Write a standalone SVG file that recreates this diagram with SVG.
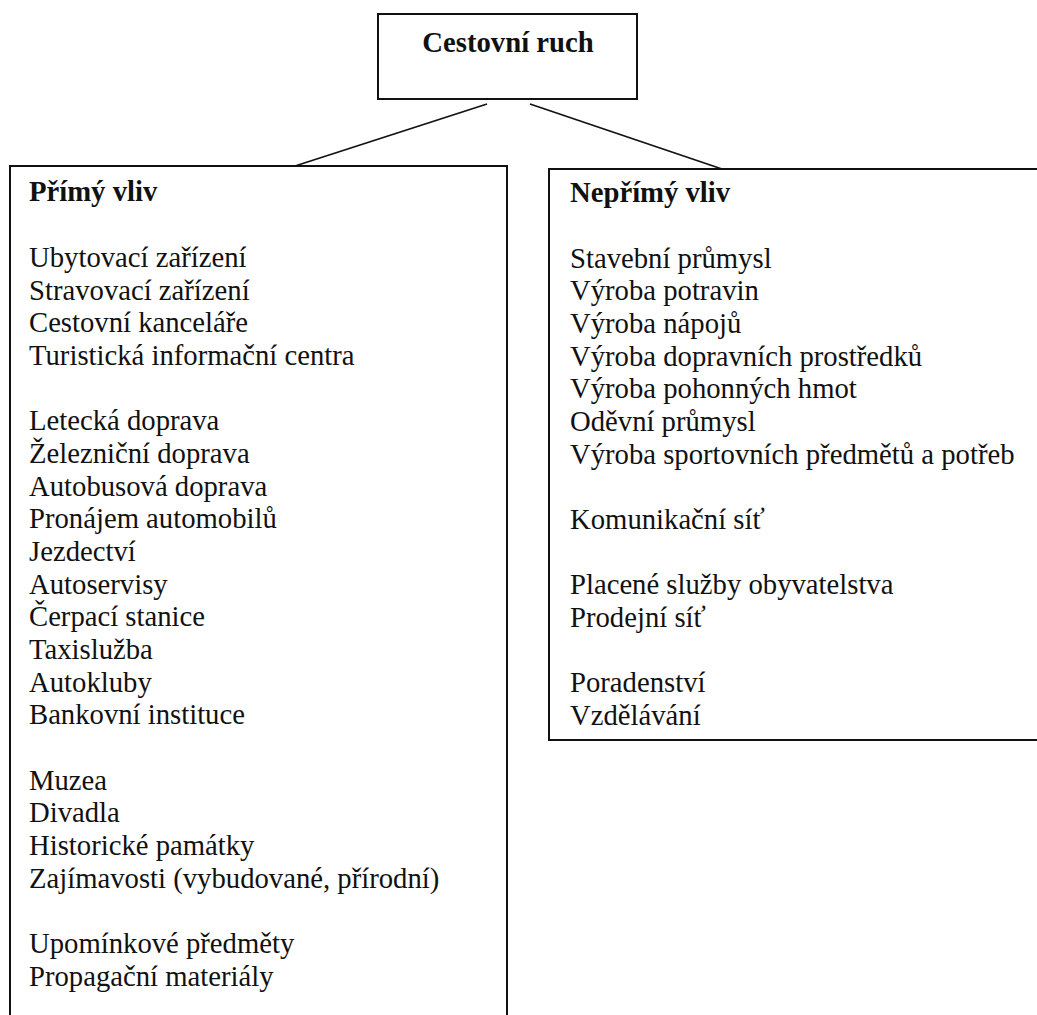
<svg xmlns="http://www.w3.org/2000/svg" width="1037" height="1015" viewBox="0 0 1037 1015">
<style>
  .box { fill: #fff; stroke: #111; stroke-width: 2; }
  .t { font-family: "Liberation Serif", "Times New Roman", serif; font-size: 28.7px; fill: #111; }
  .b { font-weight: bold; }
  .conn line { stroke: #111; stroke-width: 1.8; }
</style>
<rect width="1037" height="1015" fill="#fff"/>
<g id="connectors" class="conn">
  <line x1="487" y1="104" x2="295" y2="166"/>
  <line x1="530" y1="104" x2="722" y2="169"/>
</g>
<g id="node-root">
  <rect class="box" x="378" y="14" width="259" height="85" stroke-width="2.5"/>
  <text class="t b" x="508" y="52" text-anchor="middle">Cestovní ruch</text>
</g>
<g id="node-primy">
  <rect class="box" x="10" y="166" width="497" height="880"/>
  <text class="t b" x="29" y="201">Přímý vliv</text>
  <text class="t" x="29" y="267">Ubytovací zařízení</text>
  <text class="t" x="29" y="300">Stravovací zařízení</text>
  <text class="t" x="29" y="332">Cestovní kanceláře</text>
  <text class="t" x="29" y="365">Turistická informační centra</text>
  <text class="t" x="29" y="430">Letecká doprava</text>
  <text class="t" x="29" y="463">Železniční doprava</text>
  <text class="t" x="29" y="496">Autobusová doprava</text>
  <text class="t" x="29" y="528">Pronájem automobilů</text>
  <text class="t" x="29" y="561">Jezdectví</text>
  <text class="t" x="29" y="594">Autoservisy</text>
  <text class="t" x="29" y="626">Čerpací stanice</text>
  <text class="t" x="29" y="659">Taxislužba</text>
  <text class="t" x="29" y="692">Autokluby</text>
  <text class="t" x="29" y="724">Bankovní instituce</text>
  <text class="t" x="29" y="790">Muzea</text>
  <text class="t" x="29" y="822">Divadla</text>
  <text class="t" x="29" y="855">Historické památky</text>
  <text class="t" x="29" y="888">Zajímavosti (vybudované, přírodní)</text>
  <text class="t" x="29" y="953">Upomínkové předměty</text>
  <text class="t" x="29" y="986">Propagační materiály</text>
</g>
<g id="node-neprimy">
  <rect class="box" x="549" y="169" width="520" height="571"/>
  <text class="t b" x="570" y="202">Nepřímý vliv</text>
  <text class="t" x="570" y="268">Stavební průmysl</text>
  <text class="t" x="570" y="300">Výroba potravin</text>
  <text class="t" x="570" y="333">Výroba nápojů</text>
  <text class="t" x="570" y="366">Výroba dopravních prostředků</text>
  <text class="t" x="570" y="398">Výroba pohonných hmot</text>
  <text class="t" x="570" y="431">Oděvní průmysl</text>
  <text class="t" x="570" y="464">Výroba sportovních předmětů a potřeb</text>
  <text class="t" x="570" y="529">Komunikační síť</text>
  <text class="t" x="570" y="594">Placené služby obyvatelstva</text>
  <text class="t" x="570" y="627">Prodejní síť</text>
  <text class="t" x="570" y="692">Poradenství</text>
  <text class="t" x="570" y="725">Vzdělávání</text>
</g>
</svg>
